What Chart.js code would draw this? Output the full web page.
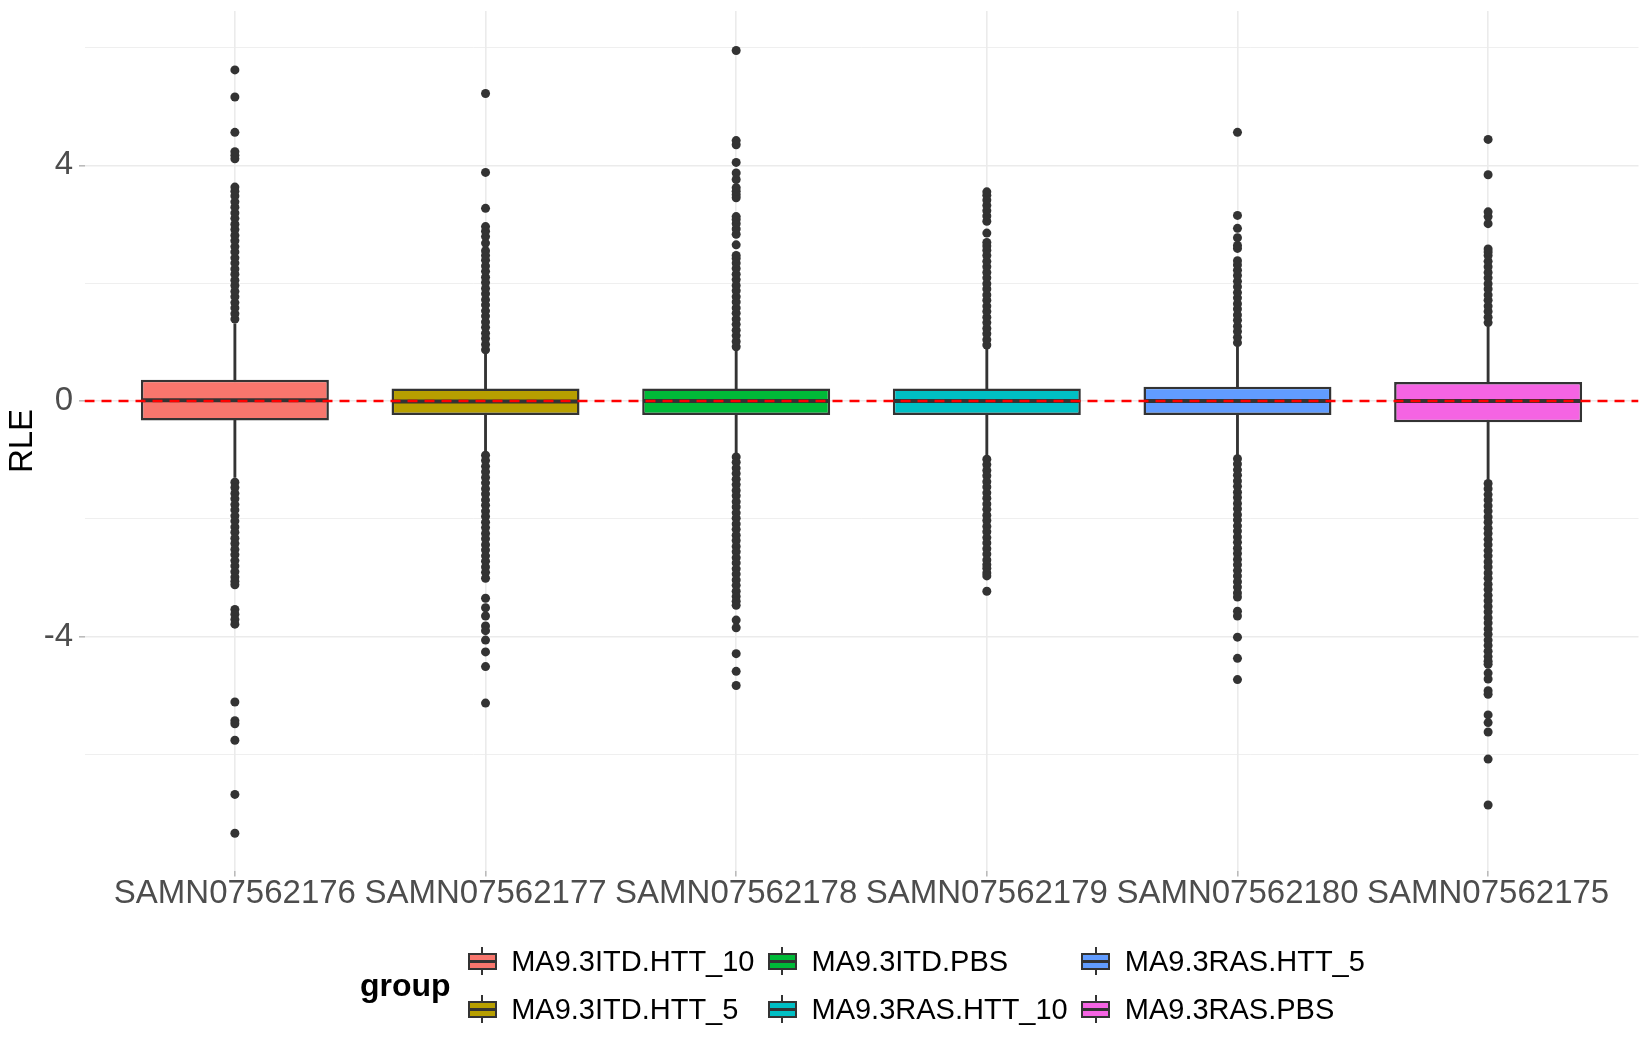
<!DOCTYPE html>
<html>
<head>
<meta charset="utf-8">
<script src="https://cdn.jsdelivr.net/npm/chart.js@4"></script>
<style>
  body { margin: 0; background: #ffffff; font-family: 'Liberation Sans', Arial, sans-serif; }
  #wrap { position: relative; width: 1650px; height: 1050px; }
  #legend { position: absolute; left: 360px; top: 944px; display: flex; align-items: center; }
  #legend .ttl { font-size: 32px; font-weight: bold; color: #000; }
  #legend .keys { display: grid; grid-template-rows: 34px 34px; grid-auto-flow: column; row-gap: 14px; column-gap: 10px; margin-left: 13.5px; }
  #legend .item { display: flex; align-items: center; }
  #legend .key { position: relative; width: 36px; height: 34px; }
  #legend .wh { position: absolute; left: 17px; top: 3.4px; width: 2px; height: 27.2px; background: #333333; }
  #legend .bx { position: absolute; left: 3.6px; top: 8.5px; width: 28.8px; height: 17px; border: 2px solid #333333; box-sizing: border-box; }
  #legend .md { position: absolute; left: 3.6px; top: 15.5px; width: 28.8px; height: 3px; background: #333333; }
  #legend .lbl { margin-left: 11px; font-size: 29px; color: #000; white-space: nowrap; }
</style>
</head>
<body>
<div id="wrap">
  <canvas id="rleChart" width="1650" height="1050"></canvas>
  <div id="legend"></div>
</div>
<script>
// samples and their groups
var samples = ["SAMN07562176", "SAMN07562177", "SAMN07562178", "SAMN07562179", "SAMN07562180", "SAMN07562175"];
var groups = ["MA9.3ITD.HTT_10", "MA9.3ITD.HTT_5", "MA9.3ITD.PBS", "MA9.3RAS.HTT_10", "MA9.3RAS.HTT_5", "MA9.3RAS.PBS"];
var groupColors = ["#F8766D", "#B79F00", "#00BA38", "#00BFC4", "#619CFF", "#F564E3"];

// box statistics (RLE)
var lowerQuartile = [-0.33, -0.24, -0.24, -0.24, -0.24, -0.36];
var medianRLE = [0.01, -0.01, 0, 0, 0, 0];
var upperQuartile = [0.36, 0.21, 0.21, 0.21, 0.24, 0.32];
var lowerWhisker = [-1.30, -0.85, -0.88, -0.92, -0.91, -1.33];
var upperWhisker = [1.31, 0.80, 0.85, 0.88, 0.92, 1.26];

// outliers above the upper whisker
var upperOutliers = [
    [1.39, 1.48, 1.58, 1.67, 1.77, 1.86, 1.96, 2.05, 2.15, 2.24, 2.34, 2.43, 2.53, 2.62, 2.72, 2.81, 2.91, 3.0, 3.1, 3.19, 3.29, 3.38, 3.48, 3.56, 3.63, 4.11, 4.17, 4.23, 4.56, 5.16, 5.62],
    [0.87, 0.96, 1.06, 1.15, 1.25, 1.34, 1.44, 1.53, 1.63, 1.72, 1.82, 1.91, 2.01, 2.1, 2.2, 2.29, 2.39, 2.47, 2.55, 2.68, 2.79, 2.88, 2.96, 3.27, 3.88, 5.22],
    [0.92, 1.01, 1.11, 1.2, 1.3, 1.39, 1.49, 1.58, 1.68, 1.77, 1.87, 1.96, 2.06, 2.15, 2.25, 2.34, 2.42, 2.47, 2.65, 2.83, 2.92, 3.01, 3.08, 3.13, 3.45, 3.5, 3.56, 3.62, 3.76, 3.87, 4.05, 4.35, 4.42, 5.95],
    [0.95, 1.04, 1.14, 1.23, 1.33, 1.42, 1.52, 1.61, 1.71, 1.8, 1.9, 1.99, 2.09, 2.18, 2.28, 2.37, 2.47, 2.56, 2.63, 2.69, 2.85, 3.05, 3.14, 3.23, 3.32, 3.41, 3.49, 3.55],
    [0.99, 1.08, 1.18, 1.27, 1.37, 1.46, 1.56, 1.65, 1.75, 1.84, 1.94, 2.03, 2.13, 2.22, 2.31, 2.38, 2.59, 2.64, 2.77, 2.93, 3.15, 4.56],
    [1.33, 1.42, 1.52, 1.61, 1.71, 1.8, 1.9, 1.99, 2.09, 2.18, 2.28, 2.37, 2.47, 2.53, 2.58, 3.01, 3.13, 3.21, 3.84, 4.44]
];

// outliers below the lower whisker
var lowerOutliers = [
    [-1.38, -1.47, -1.57, -1.66, -1.76, -1.85, -1.95, -2.04, -2.14, -2.23, -2.33, -2.42, -2.52, -2.61, -2.71, -2.8, -2.9, -2.99, -3.06, -3.12, -3.54, -3.62, -3.71, -3.79, -5.11, -5.43, -5.48, -5.76, -6.68, -7.34],
    [-0.92, -1.01, -1.11, -1.2, -1.3, -1.39, -1.49, -1.58, -1.68, -1.77, -1.87, -1.96, -2.06, -2.15, -2.25, -2.34, -2.44, -2.53, -2.63, -2.72, -2.82, -2.91, -3.01, -3.35, -3.51, -3.65, -3.82, -3.9, -4.06, -4.26, -4.51, -5.13],
    [-0.95, -1.04, -1.14, -1.23, -1.33, -1.42, -1.52, -1.61, -1.71, -1.8, -1.9, -1.99, -2.09, -2.18, -2.28, -2.37, -2.47, -2.56, -2.66, -2.75, -2.85, -2.94, -3.04, -3.13, -3.23, -3.32, -3.4, -3.47, -3.72, -3.85, -4.29, -4.59, -4.83],
    [-0.99, -1.08, -1.18, -1.27, -1.37, -1.46, -1.56, -1.65, -1.75, -1.84, -1.94, -2.03, -2.13, -2.22, -2.32, -2.41, -2.51, -2.6, -2.7, -2.78, -2.84, -2.92, -2.97, -3.23],
    [-0.98, -1.07, -1.17, -1.26, -1.36, -1.45, -1.55, -1.64, -1.74, -1.83, -1.93, -2.02, -2.12, -2.21, -2.31, -2.4, -2.5, -2.59, -2.69, -2.78, -2.88, -2.97, -3.07, -3.16, -3.26, -3.33, -3.57, -3.65, -4.01, -4.37, -4.73],
    [-1.4, -1.49, -1.59, -1.68, -1.78, -1.87, -1.97, -2.06, -2.16, -2.25, -2.35, -2.44, -2.54, -2.63, -2.73, -2.82, -2.92, -3.01, -3.11, -3.2, -3.3, -3.39, -3.49, -3.58, -3.68, -3.77, -3.87, -3.96, -4.06, -4.15, -4.25, -4.34, -4.42, -4.47, -4.62, -4.72, -4.92, -4.98, -5.33, -5.46, -5.62, -6.08, -6.86]
];

// y axis ticks
var yGridTicks = [-6, -4, -2, 0, 2, 4, 6];
var yLabelTicks = [-4, 0, 4];
var refLineY = 0;

var boxWidth = 0.75;
var xMin = 0.4, xMax = 6.6;

Chart.defaults.font.family = "'Liberation Sans', Arial, sans-serif";

document.addEventListener('DOMContentLoaded', function () {
    var boxes = samples.map(function (s, i) { return { x: i + 1, y: [lowerQuartile[i], upperQuartile[i]] }; });
    var upperWhiskers = samples.map(function (s, i) { return { x: i + 1, y: [upperQuartile[i], upperWhisker[i]] }; });
    var lowerWhiskers = samples.map(function (s, i) { return { x: i + 1, y: [lowerWhisker[i], lowerQuartile[i]] }; });
    var medians = samples.map(function (s, i) { return { x: i + 1, y: medianRLE[i] }; });
    var outliers = [];
    samples.forEach(function (s, i) {
        upperOutliers[i].concat(lowerOutliers[i]).forEach(function (v) {
            outliers.push({ x: i + 1, y: v });
        });
    });

    // half of a box width, in pixels
    var halfBox = function (ctx) {
        var sx = ctx.chart.scales.x;
        return Math.abs(sx.getPixelForValue(1 + boxWidth / 2) - sx.getPixelForValue(1)) - 1;
    };

    new Chart("rleChart", {
        type: "bar",
        data: {
            datasets: [{
                type: "line",
                data: [{ x: xMin, y: refLineY }, { x: xMax, y: refLineY }],
                borderColor: "#FF0000",
                borderWidth: 2.5,
                borderDash: [10, 7],
                pointRadius: 0,
                order: 0
            }, {
                type: "scatter",
                data: medians,
                pointStyle: "line",
                pointRadius: halfBox,
                pointBorderColor: "#333333",
                pointBorderWidth: 4,
                order: 1
            }, {
                type: "bar",
                data: boxes,
                backgroundColor: groupColors,
                borderColor: "#333333",
                borderWidth: 2.5,
                borderSkipped: false,
                grouped: false,
                barPercentage: boxWidth,
                categoryPercentage: 1,
                order: 2
            }, {
                type: "bar",
                data: upperWhiskers,
                backgroundColor: "#333333",
                barThickness: 2.2,
                grouped: false,
                order: 3
            }, {
                type: "bar",
                data: lowerWhiskers,
                backgroundColor: "#333333",
                barThickness: 2.2,
                grouped: false,
                order: 3
            }, {
                type: "scatter",
                data: outliers,
                pointBackgroundColor: "#333333",
                pointBorderWidth: 0,
                pointRadius: 4.5,
                order: 4
            }]
        },
        options: {
            responsive: false,
            devicePixelRatio: 1,
            animation: false,
            events: [],
            layout: { padding: { top: 11, right: 11.5, bottom: 0, left: 0 } },
            plugins: {
                legend: { display: false },
                tooltip: { enabled: false }
            },
            scales: {
                x: {
                    type: "linear",
                    min: xMin,
                    max: xMax,
                    offset: false,
                    afterBuildTicks: function (scale) {
                        scale.ticks = samples.map(function (s, i) { return { value: i + 1 }; });
                    },
                    afterFit: function (scale) {
                        scale.height = 179;
                        scale.paddingLeft = 0;
                        scale.paddingRight = 0;
                    },
                    border: { display: false },
                    grid: { offset: false, color: "#EBEBEB", lineWidth: 1.6, tickLength: 5.5, tickColor: "#BBBBBB" },
                    ticks: {
                        autoSkip: false,
                        maxRotation: 0,
                        padding: -2,
                        color: "#4D4D4D",
                        font: { size: 33 },
                        callback: function (v) { return samples[v - 1]; }
                    }
                },
                y: {
                    min: -7.98,
                    max: 6.62,
                    afterBuildTicks: function (scale) {
                        scale.ticks = yGridTicks.map(function (v) { return { value: v }; });
                    },
                    afterFit: function (scale) {
                        scale.width = 84.5;
                        scale.paddingTop = 0;
                        scale.paddingBottom = 0;
                    },
                    border: { display: false },
                    grid: {
                        color: "#EBEBEB",
                        tickLength: 5.5,
                        lineWidth: function (ctx) { return yLabelTicks.indexOf(ctx.tick.value) >= 0 ? 1.6 : 0.8; },
                        tickColor: function (ctx) { return yLabelTicks.indexOf(ctx.tick.value) >= 0 ? "#BBBBBB" : "rgba(0,0,0,0)"; }
                    },
                    ticks: {
                        padding: 6,
                        color: "#4D4D4D",
                        font: { size: 33 },
                        callback: function (v) { return yLabelTicks.indexOf(v) >= 0 ? String(v) : ""; }
                    },
                    title: {
                        display: true,
                        text: "RLE",
                        color: "#000000",
                        font: { size: 33 },
                        padding: { top: 3, bottom: 0 }
                    }
                }
            }
        }
    });

    // legend: title on the left, keys filled column by column
    var legend = document.getElementById("legend");
    var ttl = document.createElement("div");
    ttl.className = "ttl";
    ttl.textContent = "group";
    legend.appendChild(ttl);
    var keys = document.createElement("div");
    keys.className = "keys";
    groups.forEach(function (g, i) {
        var item = document.createElement("div");
        item.className = "item";
        item.innerHTML = '<div class="key"><div class="wh"></div><div class="bx" style="background:' + groupColors[i] +
            '"></div><div class="md"></div></div><span class="lbl"></span>';
        item.querySelector(".lbl").textContent = g;
        keys.appendChild(item);
    });
    legend.appendChild(keys);
});
</script>
</body>
</html>
